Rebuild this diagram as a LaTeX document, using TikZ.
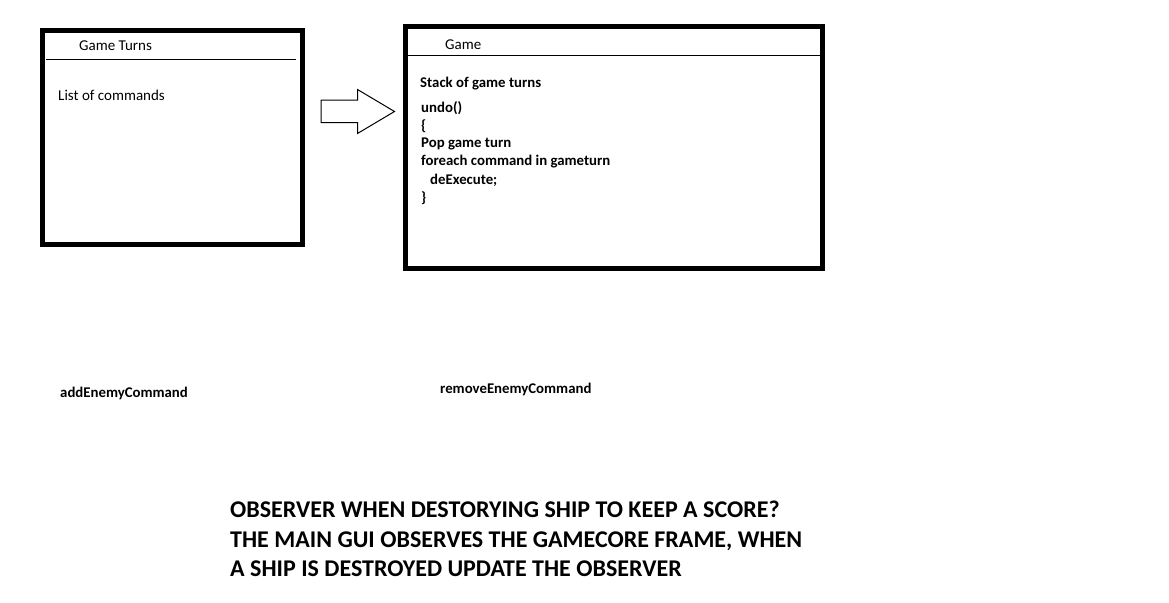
\documentclass[tikz,border=0pt]{standalone}
\usepackage{fontspec}
\setmainfont{Carlito}
\begin{document}
\begin{tikzpicture}[x=1pt,y=-1pt,
  frame/.style={draw=black,line width=5pt},
  sep/.style={draw=black,line width=1.2pt},
  txt/.style={anchor=west,inner sep=0pt,font=\fontsize{15}{18}\selectfont},
  btxt/.style={anchor=west,inner sep=0pt,font=\fontsize{14.8}{18}\selectfont\bfseries},
  big/.style={anchor=north west,inner sep=0pt,align=left,font=\fontsize{24}{29.5}\selectfont\bfseries},
  blockarrow/.style={draw=black,line width=1pt,fill=white}]
\useasboundingbox (0,0) rectangle (1169,602);
% Game Turns box
\draw[frame] (42.5,30.5) rectangle (302,244.5);
\draw[sep] (46,59.5) -- (296,59.5);
\node[txt] (gtTitle) at (79,46) {Game Turns};
\node[txt] (gtList) at (58,95.5) {List of commands};
% Game box
\draw[frame] (405,26.5) rectangle (822.5,268.5);
\draw[sep] (408,55.7) -- (820,55.7);
\node[txt] (gTitle) at (445,44.5) {Game};
\node[btxt] (gStack) at (420,83.5) {Stack of game turns};
\node[btxt] (l1) at (421,108) {undo()};
\node[btxt] (l2) at (421,126) {\{};
\node[btxt] (l3) at (421,144) {Pop game turn};
\node[btxt] (l4) at (421,162) {foreach command in gameturn};
\node[btxt] (l5) at (430,180) {deExecute;};
\node[btxt] (l6) at (421,198) {\}};
% block arrow
\draw[blockarrow] (321,100) -- (357.5,100) -- (357.5,89.5) -- (394.5,111.5) -- (357.5,133.5) -- (357.5,122.5) -- (321,122.5) -- cycle;
% labels
\node[btxt] (add) at (60,393.5) {addEnemyCommand};
\node[btxt] (rem) at (440,389.5) {removeEnemyCommand};
\node[big] (obs) at (230,501) {OBSERVER WHEN DESTORYING SHIP TO KEEP A SCORE?\\THE MAIN GUI OBSERVES THE GAMECORE FRAME, WHEN\\A SHIP IS DESTROYED UPDATE THE OBSERVER};
\end{tikzpicture}
\end{document}
